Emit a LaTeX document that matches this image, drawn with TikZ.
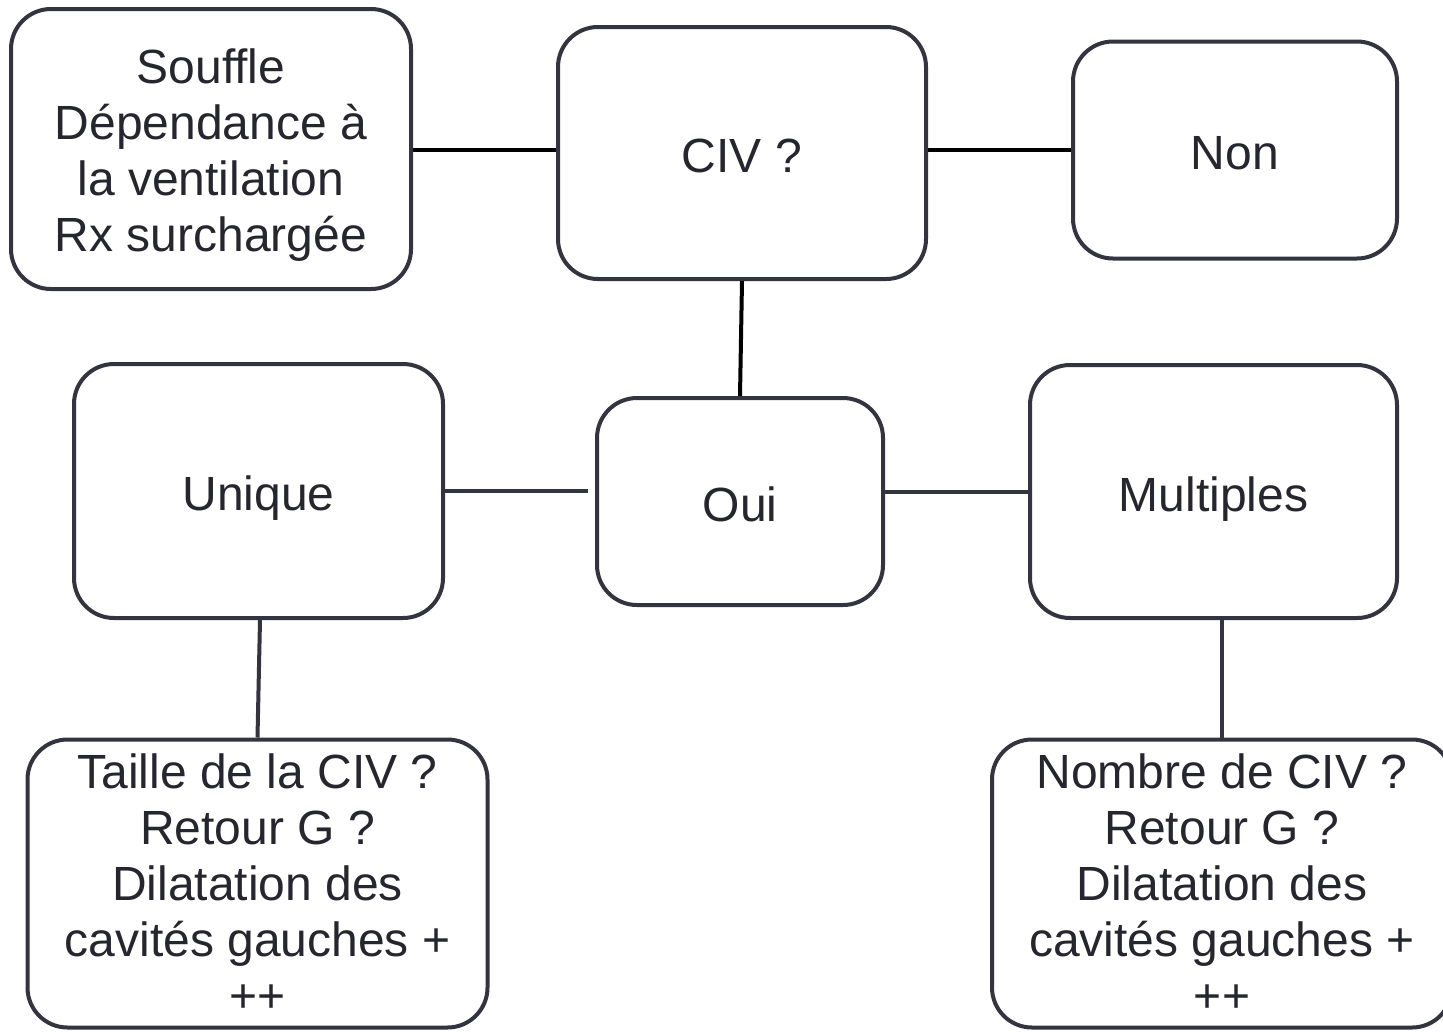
\documentclass[tikz,border=0pt]{standalone}
\usepackage{fontspec}
\setmainfont{Liberation Sans}
\definecolor{boxline}{HTML}{33343F}
\definecolor{txt}{HTML}{26262E}
\begin{document}
\begin{tikzpicture}[x=1pt,y=-1pt,
  box/.style={draw=boxline,line width=4pt,rounded corners=40pt,rectangle,
    align=center,text=txt,inner sep=0pt,
    font=\fontsize{48}{56}\selectfont},
  oneline/.style={text height=39pt,text depth=0pt},
  link/.style={line width=4pt,draw=boxline},
  blink/.style={line width=4pt,draw=black}]
\useasboundingbox (0,0) rectangle (1443,1031);
\clip (0,0) rectangle (1443,1031);
\fill[white] (0,0) rectangle (1443,1031);

\node[box,minimum width=400pt,minimum height=280pt] (souffle) at (211,149)
  {\rule{0pt}{46pt}Souffle\\Dépendance à\\la ventilation\\Rx surchargée};
\node[box,oneline,minimum width=368pt,minimum height=252pt] (civ) at (742,153) {CIV ?};
\node[box,oneline,minimum width=324pt,minimum height=217pt] (non) at (1235,150) {Non};
\node[box,oneline,minimum width=369pt,minimum height=254pt] (unique) at (258.5,491) {Unique};
\node[box,oneline,minimum width=286pt,minimum height=207pt] (oui) at (740,501.5) {Oui};
\node[box,oneline,minimum width=367pt,minimum height=253pt] (multiples) at (1213.5,491.5) {Multiples};
\node[box,minimum width=460pt,minimum height=288pt] (taille) at (257.5,883.5)
  {Taille de la CIV ?\\Retour G ?\\Dilatation des\\cavités gauches +\\++};
\node[box,minimum width=460pt,minimum height=288pt] (nombre) at (1222,883.5)
  {Nombre de CIV ?\\Retour G ?\\Dilatation des\\cavités gauches +\\++};

\draw[blink] (souffle.east |- 0,150) -- (civ.west |- 0,150);
\draw[blink] (civ.east |- 0,150) -- (non.west |- 0,150);
\draw[blink] (civ.south) -- (oui.north);
\draw[link] (unique.east) -- ([xshift=-7pt]oui.west |- unique.east);
\draw[link] (oui.east |- multiples.west) -- (multiples.west);
\draw[link] ([xshift=1.5pt]unique.south) -- (taille.north);
\draw[link] (multiples.south -| nombre.north) -- (nombre.north);
\end{tikzpicture}
\end{document}
